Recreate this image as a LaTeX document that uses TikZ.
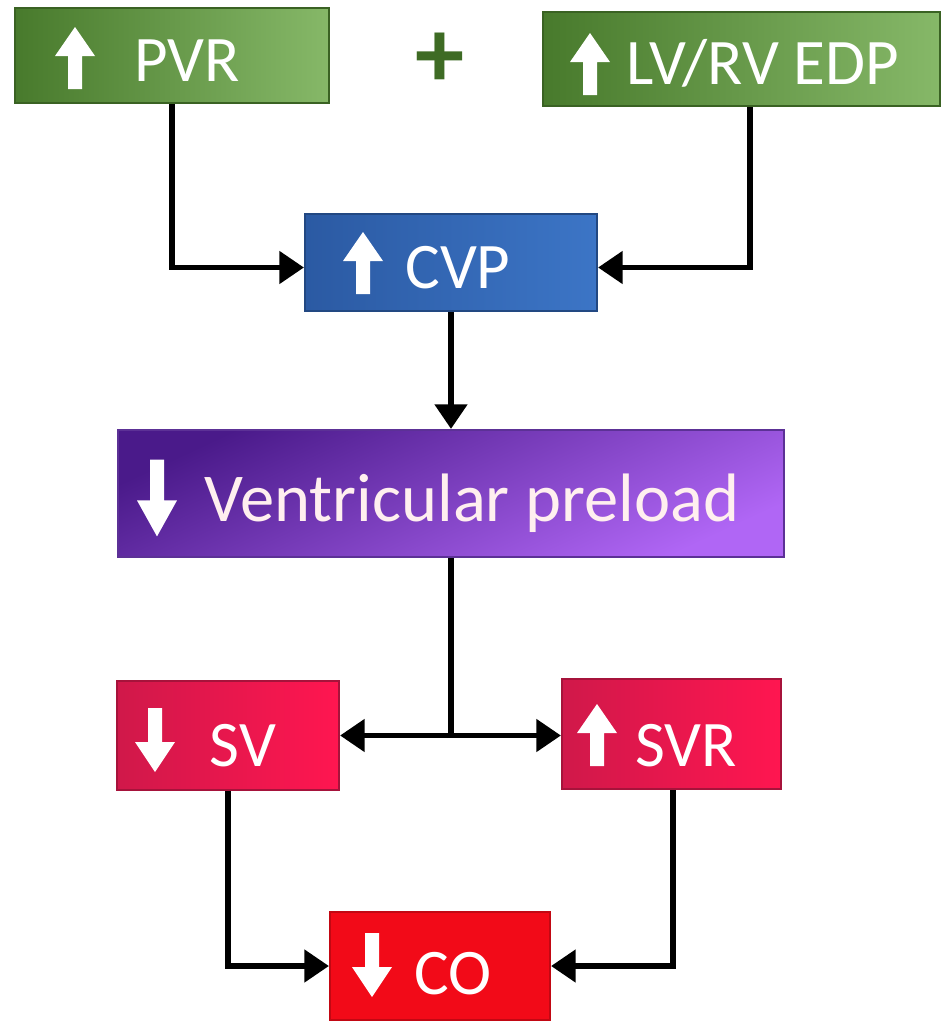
\documentclass[tikz,border=0pt]{standalone}
\usepackage{fontspec}
\setmainfont{Carlito}
\usetikzlibrary{arrows.meta}

\definecolor{grnDark}{HTML}{487A2C}
\definecolor{grnLight}{HTML}{86B868}
\definecolor{grnPlus}{HTML}{3E6B24}
\definecolor{bluDark}{HTML}{2B5AA3}
\definecolor{bluLight}{HTML}{3C75C6}
\definecolor{prpDark}{HTML}{4A1A8A}
\definecolor{prpLight}{HTML}{B066F5}
\definecolor{crmDark}{HTML}{D0184A}
\definecolor{crmLight}{HTML}{FF1650}
\definecolor{redBox}{HTML}{F20A18}

\tikzset{
  box/.style={rectangle, inner sep=0pt, line width=1.2pt},
  lbl/.style={text=white, font=\fontsize{37}{37}\selectfont, anchor=base, inner sep=0pt},
  conn/.style={line width=3.3pt, -{Triangle[length=14pt,width=18pt]}},
  pics/uparr/.style={code={
    \fill[white] (0,-31) -- (20,-2) -- (7,-2) -- (7,31) -- (-7,31) -- (-7,-2) -- (-20,-2) -- cycle;}},
  pics/downarr/.style={code={
    \fill[white] (0,32) -- (20,2) -- (7,2) -- (7,-32) -- (-7,-32) -- (-7,2) -- (-20,2) -- cycle;}},
}

\begin{document}
\begin{tikzpicture}[x=0.02cm, y=-0.02cm]
%\draw [help lines] (0,0) grid (942,1021);
    \useasboundingbox (0,0) rectangle (942,1021);

    % boxes
    \node [box, draw=grnDark!80!black, left color=grnDark, right color=grnLight,
        minimum width=6.28cm, minimum height=1.9cm] (pvr) at (172,55.5) {};
    \node [box, draw=grnDark!80!black, left color=grnDark, right color=grnLight,
        minimum width=7.94cm, minimum height=1.88cm] (lvrv) at (741.5,59) {};
    \node [box, draw=bluDark!80!black, left color=bluDark, right color=bluLight,
        minimum width=5.84cm, minimum height=1.94cm] (cvp) at (451,262.5) {};
    \node [box, draw=prpDark!90, top color=prpDark, bottom color=prpLight, shading angle=25,
        minimum width=13.32cm, minimum height=2.54cm] (pre) at (451,493.5) {};
    \node [box, draw=crmDark!80!black, left color=crmDark, right color=crmLight,
        minimum width=4.44cm, minimum height=2.18cm] (sv) at (228,735.5) {};
    \node [box, draw=crmDark!80!black, left color=crmDark, right color=crmLight,
        minimum width=4.38cm, minimum height=2.2cm] (svr) at (671.5,734) {};
    \node [box, draw=redBox!80!black, fill=redBox,
        minimum width=4.4cm, minimum height=2.16cm] (co) at (440,966) {};

    % labels
    \node [lbl] (pvrtxt) at (187,81) {PVR};
    \node [lbl] (lvrvtxt) at (763,84) {LV/RV EDP};
    \node [lbl] (cvptxt) at (458,288) {CVP};
    \node [lbl, text=pink!25!white, font=\fontsize{39}{39}\selectfont] (pretxt) at (472,521) {Ventricular preload};
    \node [lbl] (svtxt) at (243,766) {SV};
    \node [lbl] (svrtxt) at (686,766) {SVR};
    \node [lbl] (cotxt) at (453,994) {CO};
    \node [text=grnPlus, font=\bfseries\fontsize{56}{56}\selectfont] (plus) at (440,60) {+};

    % up / down marks
    \pic at (75,58) {uparr};
    \pic at (590,64) {uparr};
    \pic at (363,263) {uparr};
    \pic [yscale=1.2] at (157,498) {downarr};
    \pic at (155,740) {downarr};
    \pic at (597,735) {uparr};
    \pic at (372,965) {downarr};

    % connectors
    \coordinate (br) at (pre.south |- sv.east);
    \draw [conn] (pvr.south) |- ([yshift=-0.1cm]cvp.west);
    \draw [conn] ([xshift=0.17cm]lvrv.south) |- ([yshift=-0.1cm]cvp.east);
    \draw [conn] (cvp.south) -- (pre.north);
    \draw [line width=3.3pt] (pre.south) -- (br);
    \draw [conn] (br) -- (sv.east);
    \draw [conn] (br) -- (br -| svr.west);
    \draw [conn] (sv.south) |- (co.west);
    \draw [conn] ([xshift=0.03cm]svr.south) |- (co.east);
\end{tikzpicture}
\end{document}
